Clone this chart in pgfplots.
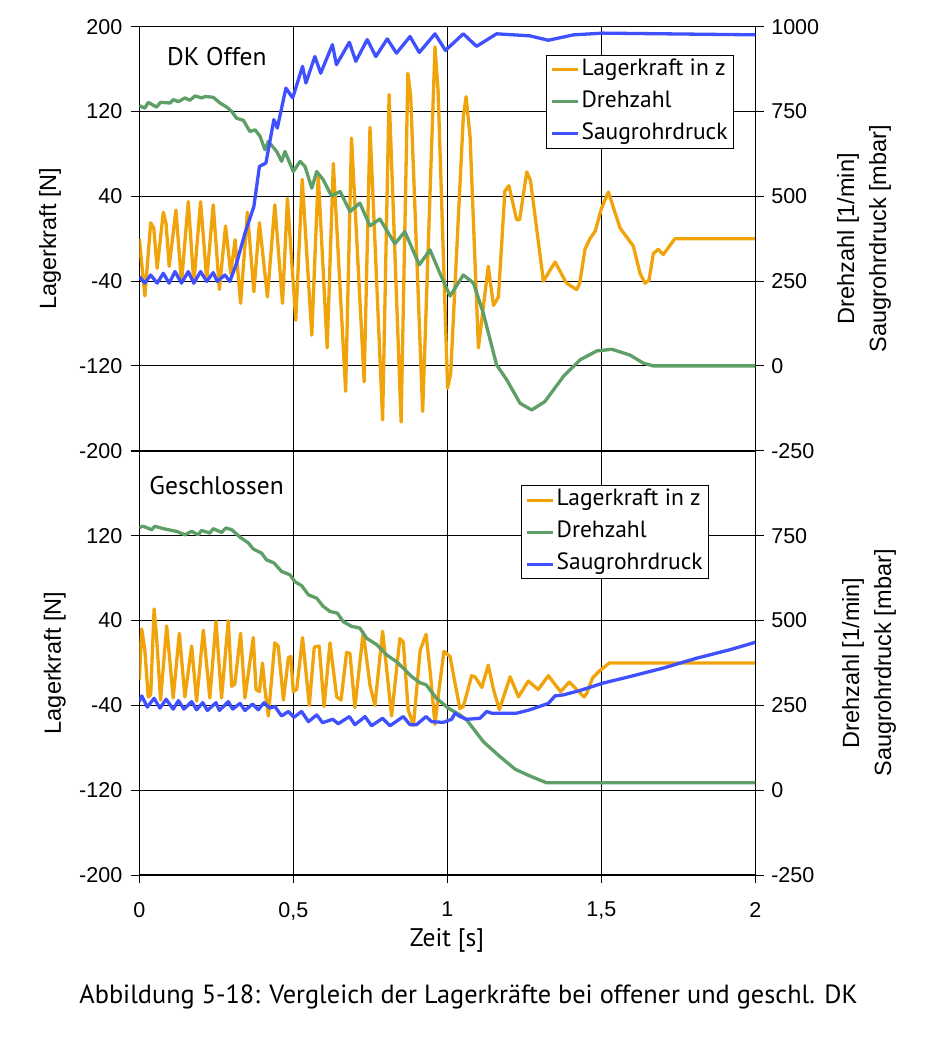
\documentclass[border=0pt]{standalone}
\usepackage{fontspec}
\setmainfont{Liberation Sans}
\newfontfamily\lfont{PT Sans}
\usepackage{pgfplots}
\pgfplotsset{compat=1.18}
\definecolor{cor}{RGB}{240,163,10}
\definecolor{cgr}{RGB}{94,158,103}
\definecolor{cbl}{RGB}{63,81,255}

\pgfplotstableread{
t N
0 0
0.018 -54
0.037 15
0.047 10
0.058 -28
0.078 25
0.087 14
0.097 -26
0.119 27
0.137 -42
0.159 35
0.177 -42
0.199 35
0.219 -39
0.240 32
0.260 -48
0.280 12
0.297 -33
0.311 -1
0.329 -61
0.351 25
0.372 -50
0.390 15
0.416 -55
0.440 32
0.465 -61
0.481 38
0.508 -77
0.529 56
0.560 -91
0.581 60
0.610 -103
0.630 71
0.670 -144
0.689 95
0.730 -135
0.749 105
0.790 -171
0.811 136
0.850 -173
0.872 156
0.881 135
0.920 -163
0.960 181
0.970 140
1.001 -141
1.011 -127
1.052 115
1.061 134
1.074 96
1.101 -103
1.133 -26
1.150 -63
1.166 -55
1.187 45
1.200 50
1.225 18
1.235 18
1.258 63
1.270 55
1.312 -40
1.350 -22
1.387 -42
1.420 -48
1.430 -42
1.447 -10
1.463 0
1.480 7
1.501 29
1.523 44
1.561 10
1.604 -7
1.626 -33
1.642 -42
1.655 -39
1.669 -14
1.685 -10
1.701 -15
1.739 0
2.000 0
}\topforce

\pgfplotstableread{
t R
0 767
0.018 760
0.029 777
0.056 763
0.069 777
0.100 775
0.110 785
0.127 779
0.148 790
0.164 783
0.181 796
0.202 790
0.213 794
0.240 792
0.262 775
0.284 763
0.300 750
0.316 730
0.338 724
0.359 691
0.376 696
0.392 677
0.408 637
0.419 662
0.446 632
0.462 603
0.473 632
0.500 573
0.522 603
0.538 588
0.560 524
0.576 573
0.597 549
0.624 501
0.652 514
0.684 455
0.716 480
0.749 413
0.781 433
0.830 360
0.862 396
0.909 298
0.944 342
0.976 273
1.009 206
1.052 268
1.085 244
1.117 155
1.160 3
1.193 -41
1.236 -110
1.274 -130
1.317 -105
1.377 -31
1.431 18
1.485 44
1.534 49
1.593 32
1.637 8
1.669 0
2.000 0
}\topspeed

\pgfplotstableread{
t R
0 263
0.018 244
0.037 268
0.058 244
0.078 273
0.097 244
0.116 278
0.137 244
0.159 278
0.177 244
0.199 278
0.219 249
0.240 275
0.253 249
0.278 268
0.294 249
0.316 303
0.343 391
0.372 470
0.390 588
0.411 598
0.437 726
0.448 701
0.476 819
0.498 790
0.530 883
0.541 834
0.570 912
0.589 863
0.627 947
0.640 888
0.682 954
0.703 898
0.740 962
0.768 912
0.805 964
0.835 922
0.879 971
0.909 924
0.960 979
0.994 930
1.052 979
1.095 942
1.160 979
1.268 973
1.328 960
1.410 976
1.506 981
2.000 976
}\toppress

\pgfplotstableread{
t N
0 -16
0.008 32
0.018 12
0.029 -32
0.037 -30
0.048 51
0.056 25
0.069 -35
0.089 35
0.110 -33
0.130 28
0.148 -32
0.170 16
0.186 -36
0.208 31
0.229 -33
0.249 39
0.267 -33
0.289 40
0.300 -22
0.310 -20
0.329 28
0.343 -33
0.370 24
0.379 -25
0.390 -27
0.400 0
0.408 -25
0.419 -50
0.440 19
0.451 16
0.468 -35
0.484 5
0.492 6
0.500 -27
0.511 -25
0.530 24
0.552 -40
0.568 15
0.584 16
0.600 -41
0.619 19
0.641 -32
0.655 -35
0.673 10
0.684 9
0.700 -42
0.727 29
0.749 -21
0.765 -40
0.790 30
0.801 0
0.819 -50
0.846 23
0.857 20
0.873 -44
0.890 -59
0.912 12
0.931 27
0.945 -10
0.960 -58
0.971 -30
0.989 11
1.009 6
1.025 -19
1.041 -43
1.052 -41
1.079 -12
1.090 -13
1.112 -23
1.133 -2
1.150 -25
1.169 -44
1.204 -13
1.231 -32
1.263 -17
1.295 -25
1.328 -12
1.368 -27
1.396 -18
1.444 -32
1.452 -29
1.472 -14
1.496 -7
1.526 0
2.000 0
}\botforce

\pgfplotstableread{
t R
0 775
0.013 778
0.040 768
0.051 778
0.078 771
0.121 763
0.148 753
0.170 763
0.191 753
0.202 766
0.229 758
0.240 771
0.267 760
0.281 773
0.300 768
0.327 746
0.354 729
0.370 711
0.397 699
0.413 679
0.437 670
0.462 645
0.489 635
0.505 615
0.527 603
0.549 576
0.576 566
0.597 542
0.619 527
0.643 522
0.662 497
0.689 483
0.716 478
0.738 448
0.771 429
0.803 399
0.835 379
0.857 360
0.884 335
0.911 317
0.931 311
0.965 271
1.003 242
1.041 222
1.063 207
1.117 143
1.171 99
1.220 62
1.268 42
1.322 22
2.000 22
}\botspeed

\pgfplotstableread{
t R
0 261
0.008 278
0.026 245
0.048 271
0.067 242
0.087 268
0.110 239
0.127 264
0.145 239
0.170 261
0.186 237
0.206 258
0.221 235
0.249 258
0.260 235
0.289 261
0.303 239
0.327 256
0.343 235
0.368 254
0.386 237
0.405 258
0.424 242
0.440 247
0.462 219
0.484 232
0.502 215
0.527 232
0.549 202
0.576 222
0.595 199
0.628 209
0.646 196
0.682 217
0.700 193
0.733 217
0.754 190
0.790 212
0.814 190
0.857 217
0.879 193
0.900 193
0.931 217
0.949 202
0.987 200
1.014 209
1.025 227
1.041 217
1.063 209
1.106 212
1.128 232
1.144 227
1.225 227
1.268 237
1.328 256
1.350 278
1.377 281
1.431 294
1.507 316
1.593 335
1.701 360
1.809 389
1.917 414
2.000 436
}\botpress

\pgfplotsset{
  base/.style={
    scale only axis, width=616pt, height=424pt,
    xmin=0, xmax=2, anchor=south west,
    clip mode=individual,
    tick label style={font=\fontsize{21.5}{21.5}\selectfont},
    /pgf/number format/assume math mode=true,
    /pgf/number format/1000 sep={},
    tick align=center, major tick length=17pt,
    tick style={black, line width=0.9pt},
    axis line style={black, line width=1pt},
  },
  leftax/.style={base,
    ymin=-200, ymax=200,
    xtick={0,0.5,1,1.5,2},
    grid=major, grid style={black, line width=0.8pt},
    ytick pos=left, xtick pos=bottom,
    yticklabel shift=5pt,
  },
  rightax/.style={base,
    ymin=-250, ymax=1000,
    axis x line=none, axis y line*=right,
    yticklabel shift=4pt,
    legend cell align=left,
    legend image code/.code={\draw[##1] (0pt,0pt) -- (26pt,0pt);},
    legend style={draw=black, line width=0.8pt, fill=white,
      font=\lfont\fontsize{23.5}{23.5}\selectfont,
      anchor=north west, row sep=7pt, inner xsep=4pt, inner ysep=2pt,
      nodes={inner sep=2pt, text height=16pt, text depth=5pt}},
  },
  fl/.style={cor, line width=3.3pt, line join=round},
  gl/.style={cgr, line width=3.3pt, line join=round},
  bl/.style={cbl, line width=3.3pt, line join=round},
}

\begin{document}
\begin{tikzpicture}[x=1pt,y=1pt]
\useasboundingbox (0,0) rectangle (943,1061);

% ---------- top panel ----------
\begin{axis}[leftax, at={(139.3pt,610.3pt)},
  ytick={-200,-120,-40,40,120,200}, xticklabels={}]
\addplot[fl] table[x=t,y=N] {\topforce};
\node[rotate=90, font=\fontsize{23.5}{23.5}\selectfont] at (rel axis cs:-0.145,0.5) {Lagerkraft [N]};
\node[anchor=west, inner sep=0pt, font=\lfont\fontsize{25.5}{25.5}\selectfont] at (rel axis cs:0.045,0.9285) {DK Offen};
\end{axis}
\begin{axis}[rightax, at={(139.3pt,610.3pt)},
  ytick={-250,0,250,500,750,1000},
  legend style={at={(0.660,0.934)}}]
\addlegendimage{fl}
\addlegendentry{Lagerkraft in z}
\addplot[gl] table[x=t,y=R] {\topspeed};
\addlegendentry{Drehzahl}
\addplot[bl] table[x=t,y=R] {\toppress};
\addlegendentry{Saugrohrdruck}
\node[rotate=90, align=center, font=\fontsize{23.5}{32}\selectfont] at (rel axis cs:1.1765,0.5) {Drehzahl [1/min]\\Saugrohrdruck [mbar]};
\end{axis}

% ---------- bottom panel ----------
\begin{axis}[leftax, at={(139.3pt,186pt)},
  ytick={-200,-120,-40,40,120,200},
  yticklabels={-200,-120,-40,40,120,{}},
  xticklabels={0,{0,5},1,{1,5},2}, xticklabel shift=15pt]
\addplot[fl] table[x=t,y=N] {\botforce};
\node[rotate=90, font=\fontsize{23.5}{23.5}\selectfont] at (rel axis cs:-0.137,0.5) {Lagerkraft [N]};
\node[anchor=west, inner sep=0pt, font=\lfont\fontsize{25.5}{25.5}\selectfont] at (rel axis cs:0.0162,0.918) {Geschlossen};
\end{axis}
\begin{axis}[rightax, at={(139.3pt,186pt)},
  ytick={-250,0,250,500,750},
  legend style={at={(0.6196,0.919)}}]
\addlegendimage{fl}
\addlegendentry{Lagerkraft in z}
\addplot[gl] table[x=t,y=R] {\botspeed};
\addlegendentry{Drehzahl}
\addplot[bl] table[x=t,y=R] {\botpress};
\addlegendentry{Saugrohrdruck}
\node[rotate=90, align=center, font=\fontsize{23.5}{32}\selectfont] at (rel axis cs:1.1846,0.5) {Drehzahl [1/min]\\Saugrohrdruck [mbar]};
\end{axis}

\node[font=\lfont\fontsize{25.5}{25.5}\selectfont] at (447,121) {Zeit [s]};
\node[font=\lfont\fontsize{26.3}{26.3}\selectfont] at (468.5,64) {Abbildung 5-18: Vergleich der Lagerkräfte bei offener und geschl. DK};
\end{tikzpicture}
\end{document}
